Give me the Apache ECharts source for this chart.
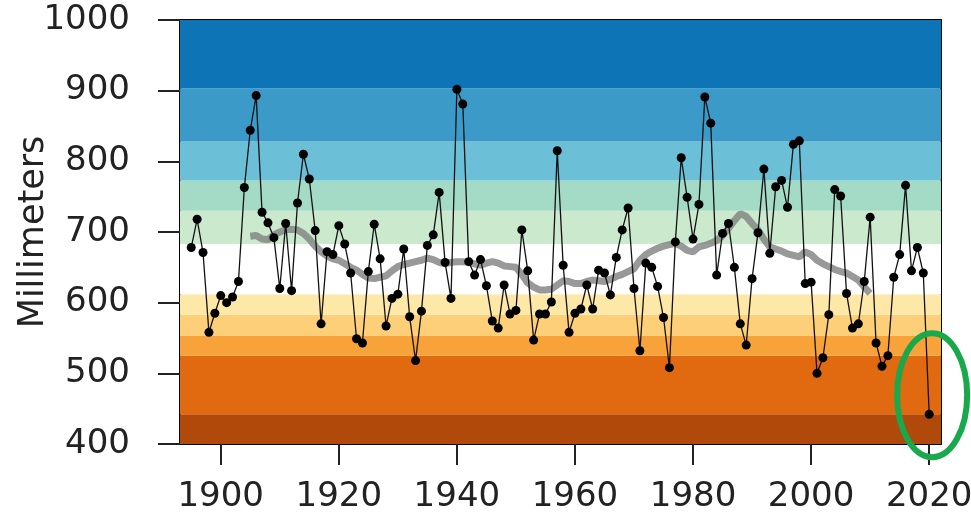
<!DOCTYPE html>
<html>
<head>
<meta charset="utf-8">
<script src="https://cdn.jsdelivr.net/npm/echarts@6/dist/echarts.min.js"></script>
<style>
  html, body { margin: 0; padding: 0; background: #fff; }
  #chart { width: 971px; height: 529px; }
</style>
</head>
<body>
<div id="chart"></div>
<script>
// annual precipitation, 1895 - 2020
var firstYear = 1895
var precip = [
  678, 718, 671, 558, 585, 610, 600, 608, 630, 763, 844, 893, 728, 713, 692, 620, 712, 617, 741, 810, 775,
  702, 570, 672, 668, 709, 683, 642, 549, 543, 644, 711, 662, 567, 606, 612, 676, 580, 518, 588, 681, 696,
  756, 657, 606, 902, 881, 658, 639, 661, 624, 574, 564, 625, 584, 589, 703, 645, 547, 584, 584, 601, 815,
  653, 558, 585, 591, 625, 591, 646, 642, 611, 664, 703, 734, 620, 532, 656, 650, 623, 579, 508, 686, 805,
  749, 690, 739, 891, 854, 639, 698, 712, 650, 570, 540, 634, 699, 789, 670, 764, 773, 735, 824, 829, 627,
  629, 500, 522, 583, 760, 751, 613, 564, 570, 630, 721, 543, 510, 525, 636, 668, 766, 645, 678, 642, 442
]

// running mean as drawn (grey), 1905 - 2010
var smoothStart = 1905
var smooth = [
  694, 695, 690, 689, 696, 700, 703, 704, 703, 698,
  690, 680, 672, 666, 662, 660, 655, 650, 646, 640,
  635, 634, 636, 638, 645, 651, 654, 656, 658, 660,
  663, 661, 657, 655, 657, 658, 658, 657, 655, 653,
  656, 658, 656, 652, 651, 650, 640, 628, 622, 618,
  618, 619, 625, 631, 630, 627, 627, 630, 632, 631,
  630, 633, 637, 640, 644, 648, 660, 668, 673, 677,
  680, 682, 684, 680, 674, 672, 679, 681, 684, 688,
  695, 705, 716, 726, 722, 712, 703, 690, 679, 676,
  673, 669, 667, 665, 672, 668, 660, 655, 651, 647,
  644, 642, 637, 632, 622, 613
]

// colour bands (mm)
var bandEdges = [400, 442, 525, 553, 583, 612, 683, 730, 773, 828, 903, 1000]
var bandColors = ['#b0490a', '#e1690f', '#f8a23a', '#fdcf79', '#fee8a8', '#ffffff',
                  '#cbe9cd', '#a3dbc6', '#6bbfd7', '#3b9ac8', '#0d75b6']

var xTicks = [1900, 1920, 1940, 1960, 1980, 2000, 2020]
var yTicks = [400, 500, 600, 700, 800, 900, 1000]

var precipData = precip.map(function (v, i) { return [firstYear + i, v] })
var smoothData = smooth.map(function (v, i) { return [smoothStart + i, v] })
var bands = []
for (var i = 0; i < bandColors.length; i++) {
  bands.push([
    { yAxis: bandEdges[i], itemStyle: { color: bandColors[i] } },
    { yAxis: bandEdges[i + 1] }
  ])
}

var font = 'DejaVu Sans'
var plain = function (v) { return String(v) }
var chart = echarts.init(document.getElementById('chart'))

var option = {
  animation: false,
  grid: { left: 180, right: 30, top: 20, bottom: 85, containLabel: false, outerBoundsMode: 'none' },
  xAxis: [{
    type: 'value',
    min: 1893.1,
    max: 2022,
    splitLine: { show: false },
    axisLine: { lineStyle: { color: '#000', width: 2 } },
    axisTick: { customValues: xTicks, length: 21, lineStyle: { color: '#222', width: 2 } },
    axisLabel: {
      customValues: xTicks, margin: 36, fontSize: 34, color: '#222', fontFamily: font,
      formatter: plain
    }
  }, {
    type: 'value', position: 'top', min: 1893.1, max: 2022,
    splitLine: { show: false },
    axisLine: { show: true, lineStyle: { color: '#000', width: 2 } },
    axisTick: { show: false }, axisLabel: { show: false }
  }],
  yAxis: [{
    type: 'value',
    min: yTicks[0],
    max: yTicks[yTicks.length - 1],
    interval: 100,
    name: 'Millimeters',
    nameLocation: 'middle',
    nameGap: 129,
    nameRotate: 90,
    nameMoveOverlap: false,
    nameTextStyle: { fontSize: 35, color: '#222', fontFamily: font },
    splitLine: { show: false },
    axisLine: { show: true, lineStyle: { color: '#000', width: 2 } },
    axisTick: { show: true, length: 22, lineStyle: { color: '#222', width: 2 } },
    axisLabel: { margin: 50, fontSize: 34, color: '#222', fontFamily: font, formatter: plain }
  }, {
    type: 'value', position: 'right', min: 400, max: 1000,
    splitLine: { show: false },
    axisLine: { show: true, lineStyle: { color: '#000', width: 2 } },
    axisTick: { show: false }, axisLabel: { show: false }
  }],
  series: [
    {
      // background bands only
      type: 'line',
      data: [],
      z: 1,
      silent: true,
      markArea: { silent: true, data: bands }
    },
    {
      name: 'smooth',
      type: 'line',
      data: smoothData,
      z: 2,
      symbol: 'none',
      lineStyle: { color: '#808080', width: 7, opacity: 0.8 }
    },
    {
      name: 'precip',
      type: 'line',
      data: precipData,
      z: 3,
      symbol: 'circle',
      symbolSize: 9,
      itemStyle: { color: '#000' },
      lineStyle: { color: '#111', width: 1.3 }
    }
  ]
}
chart.setOption(option)

// green ring around the last year
var c = chart.convertToPixel({ xAxisIndex: 0, yAxisIndex: 0 }, [2020.5, 469])
chart.setOption({
  graphic: [{
    type: 'ellipse',
    z: 100,
    shape: { cx: c[0], cy: c[1], rx: 35, ry: 62 },
    style: { fill: null, stroke: '#19a84c', lineWidth: 6 }
  }]
})
</script>
</body>
</html>
